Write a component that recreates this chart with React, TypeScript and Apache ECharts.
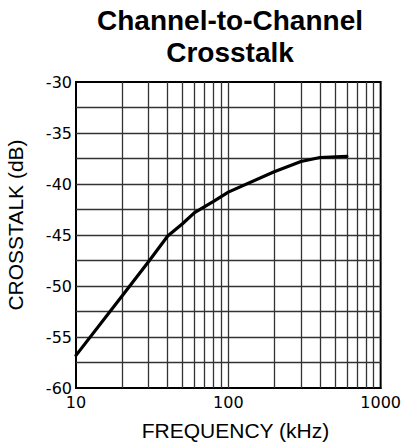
import React, { useEffect, useRef } from "react";
import * as echarts from "echarts";

const freqKHz = [10, 20, 30, 40, 50, 60, 80, 100, 200, 300, 400, 600];
const crosstalkDb = [-56.8, -51.0, -47.6, -45.1, -43.9, -42.8, -41.7, -40.8, -38.8, -37.8, -37.4, -37.3];

const gridFreqs = [20, 30, 40, 50, 60, 70, 80, 90, 100, 200, 300, 400, 500, 600, 700, 800, 900];
const gridDb = [-32.5, -35, -37.5, -40, -42.5, -45, -47.5, -50, -52.5, -55, -57.5];

const titleText = "Channel-to-Channel\nCrosstalk";
const xTitle = "FREQUENCY (kHz)";
const yTitle = "CROSSTALK (dB)";

export default function App() {
  const ref = useRef<HTMLDivElement>(null);
  useEffect(() => {
    if (!ref.current) return;
    const chart = echarts.init(ref.current, null, { renderer: "svg" });
    const gridStyle = { color: "#333", width: 1.3, type: "solid" as const };
    chart.setOption({
      animation: false,
      backgroundColor: "#fff",
      grid: {
        left: 76,
        right: 21,
        top: 82,
        bottom: 60,
        show: true,
        borderColor: "#000",
        borderWidth: 2,
        backgroundColor: "transparent",
      },
      xAxis: {
        type: "log",
        logBase: 10,
        min: 10,
        max: 1000,
        axisLine: { show: true, lineStyle: { color: "#000", width: 2 } },
        axisTick: { show: false },
        splitLine: { show: false },
        axisLabel: {
          margin: 6,
          fontSize: 16,
          fontFamily: "DejaVu Sans",
          color: "#000",
          formatter: (v: number) => String(Math.round(v)),
        },
      },
      yAxis: {
        type: "value",
        min: -60,
        max: -30,
        interval: 5,
        axisLine: { show: true, lineStyle: { color: "#000", width: 2 } },
        axisTick: { show: false },
        splitLine: { show: false },
        axisLabel: {
          margin: 4,
          fontSize: 16,
          fontFamily: "DejaVu Sans",
          color: "#000",
        },
      },
      graphic: [
        {
          type: "text",
          x: 230,
          y: 36.6,
          style: {
            text: titleText,
            font: "bold 28px 'Liberation Sans', Arial, sans-serif",
            lineHeight: 32,
            fill: "#000",
            textAlign: "center",
            textVerticalAlign: "middle",
          },
        },
        {
          type: "text",
          x: 235.5,
          y: 430,
          style: {
            text: xTitle,
            font: "21px 'Liberation Sans', Arial, sans-serif",
            fill: "#000",
            textAlign: "center",
            textVerticalAlign: "middle",
          },
        },
        {
          type: "text",
          x: 15.5,
          y: 225,
          rotation: Math.PI / 2,
          style: {
            text: yTitle,
            font: "21px 'Liberation Sans', Arial, sans-serif",
            fill: "#000",
            textAlign: "center",
            textVerticalAlign: "middle",
          },
        },
      ],
      series: [
        {
          type: "line",
          z: 1,
          silent: true,
          data: [],
          markLine: {
            silent: true,
            symbol: ["none", "none"],
            label: { show: false },
            lineStyle: gridStyle,
            emphasis: { disabled: true },
            data: [
              ...gridFreqs.map((f) => ({ xAxis: f })),
              ...gridDb.map((d) => ({ yAxis: d })),
            ],
          },
        },
        {
          type: "line",
          z: 5,
          data: freqKHz.map((f, i) => [f, crosstalkDb[i]]),
          showSymbol: false,
          symbol: "none",
          smooth: false,
          lineStyle: { color: "#000", width: 3.2, cap: "round", join: "round" },
        },
      ],
    });
    return () => chart.dispose();
  }, []);
  return <div ref={ref} style={{ width: 404, height: 448, position: "absolute", left: 0, top: 0 }} />;
}
